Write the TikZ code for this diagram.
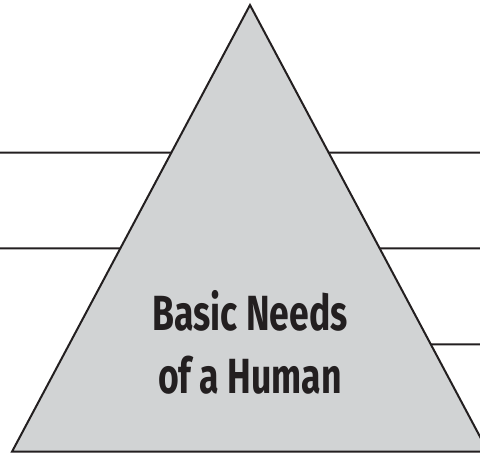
\documentclass[tikz,border=0pt]{standalone}
\usepackage{fontspec}
\newfontfamily\needsfont[FakeStretch=0.72]{Fira Sans}
\usetikzlibrary{calc}
\definecolor{pyramidgray}{HTML}{D1D3D4}
\definecolor{inkblack}{HTML}{231F20}

\begin{document}
\begin{tikzpicture}[
    x=0.5pt, y=-0.5pt,
    pyramid/.style={draw=inkblack,line width=1pt,line join=miter,fill=pyramidgray},
    write line/.style={draw=inkblack,line width=1pt},
    needs text/.style={anchor=base,inner sep=0pt,text=inkblack,font=\needsfont\bfseries\fontsize{24.7}{30}\selectfont}
    ]
    \useasboundingbox (0,0) rectangle (480,454);
    \clip (0,0) rectangle (480,454);
    % corners
    \coordinate (apex) at (250,5);
    \coordinate (base left) at (12,451.7);
    \coordinate (base right) at (488,451.7);
    % lines
    \coordinate (left 1) at (0,152.7);
    \coordinate (left 2) at (0,248.3);
    \coordinate (right 1) at (480,152.7);
    \coordinate (right 2) at (480,248.3);
    \coordinate (right 3) at (480,344.3);
    \draw [write line] (left 1) -- (intersection of apex--base left and left 1--right 1);
    \draw [write line] (left 2) -- (intersection of apex--base left and left 2--right 2);
    \draw [write line] (right 1) -- (intersection of apex--base right and left 1--right 1);
    \draw [write line] (right 2) -- (intersection of apex--base right and left 2--right 2);
    \draw [write line] (right 3) -- (intersection of apex--base right and 0,344.3--right 3);
    % triangle
    \draw [pyramid] (apex) -- (base right) -- (base left) -- cycle;
    % text
    \node [needs text] (basic) at (250,330.7) {Basic Needs};
    \node [needs text] (human) at (250,393) {of a Human};
\end{tikzpicture}
\end{document}
